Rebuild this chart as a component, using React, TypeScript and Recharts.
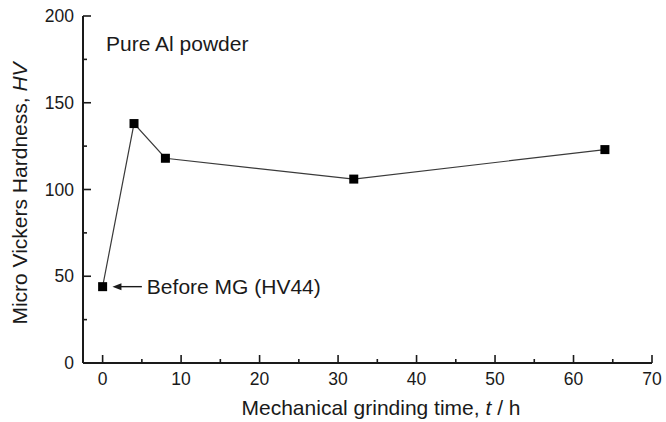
import { Label, Line, LineChart, ReferenceLine, XAxis, YAxis } from "recharts";

// Milling time (h) and micro Vickers hardness (HV)
const grindTime = [0, 4, 8, 32, 64];
const hardness = [44, 138, 118, 106, 123];

const xTicks = [0, 5, 10, 15, 20, 25, 30, 35, 40, 45, 50, 55, 60, 65, 70];
const yTicks = [0, 25, 50, 75, 100, 125, 150, 175, 200];

const sampleLabel = "Pure Al powder";
const beforeLabel = "Before MG (HV44)";

const data = grindTime.map((t, i) => ({ t, hv: hardness[i] }));

const FONT = "'Liberation Sans', Arial, Helvetica, sans-serif";
const INK = "#1a1a1a";

function BottomTick({ x, y, payload }: any) {
  const major = payload.value % 10 === 0;
  return (
    <g>
      <line x1={x} x2={x} y1={y} y2={y - (major ? 8 : 4)} stroke={INK} strokeWidth={1.6} />
      {major && (
        <text x={x} y={y + 10} dy="0.71em" textAnchor="middle" fontFamily={FONT} fontSize={17.5} fill={INK}>
          {payload.value}
        </text>
      )}
    </g>
  );
}

function TopTick({ x, y, payload }: any) {
  const major = payload.value % 10 === 0;
  return <line x1={x} x2={x} y1={y} y2={y + (major ? 8 : 4)} stroke={INK} strokeWidth={1.6} />;
}

function LeftTick({ x, y, payload }: any) {
  const major = payload.value % 50 === 0;
  return (
    <g>
      <line x1={x} x2={x + (major ? 8 : 4)} y1={y} y2={y} stroke={INK} strokeWidth={1.6} />
      {major && (
        <text x={x - 9} y={y} dy="0.355em" textAnchor="end" fontFamily={FONT} fontSize={17.5} fill={INK}>
          {payload.value}
        </text>
      )}
    </g>
  );
}

function RightTick({ x, y, payload }: any) {
  const major = payload.value % 50 === 0;
  return <line x1={x} x2={x - (major ? 8 : 4)} y1={y} y2={y} stroke={INK} strokeWidth={1.6} />;
}

function SquareDot({ cx, cy, index }: any) {
  return <rect key={`sq-${index}`} x={cx - 4.5} y={cy - 4.5} width={9} height={9} fill="#000" />;
}

function ArrowShape({ x1, y1, x2, y2 }: any) {
  // arrow head sits at the left end, pointing at the marker
  const tip = Math.min(x1, x2);
  const tail = Math.max(x1, x2);
  return (
    <g>
      <line x1={tip + 6} x2={tail} y1={y1} y2={y2} stroke={INK} strokeWidth={1.4} />
      <polygon points={`${tip},${y1} ${tip + 9},${y1 - 3.5} ${tip + 9},${y1 + 3.5}`} fill={INK} />
    </g>
  );
}

function yTitle({ viewBox }: any) {
  const cx = viewBox.x + 20;
  const cy = viewBox.y + viewBox.height / 2 + 4;
  return (
    <text
      x={cx}
      y={cy}
      transform={`rotate(-90, ${cx}, ${cy})`}
      textAnchor="middle"
      dy="0.355em"
      fontFamily={FONT}
      fontSize={21}
      fill={INK}
    >
      Micro Vickers Hardness, <tspan fontStyle="italic">HV</tspan>
    </text>
  );
}

function xTitle({ viewBox }: any) {
  const cx = viewBox.x + viewBox.width / 2 + 13.5;
  return (
    <text x={cx} y={viewBox.y + 52} textAnchor="middle" fontFamily={FONT} fontSize={21} fill={INK}>
      Mechanical grinding time, <tspan fontStyle="italic">t</tspan> / h
    </text>
  );
}

export default function App() {
  return (
    <div style={{ position: "absolute", left: 0, top: 0, background: "#fff" }}>
      <LineChart width={666} height={422} data={data} margin={{ top: 16, right: 14, bottom: 0, left: 0 }}>
        <XAxis
          xAxisId="b"
          dataKey="t"
          type="number"
          domain={[-2.5, 70]}
          ticks={xTicks}
          interval={0}
          height={59}
          tickSize={0}
          tickMargin={0}
          tickLine={false}
          tick={<BottomTick />}
          axisLine={{ stroke: INK, strokeWidth: 2 }}
        >
          <Label content={xTitle} />
        </XAxis>
        <XAxis
          xAxisId="t"
          orientation="top"
          dataKey="t"
          type="number"
          domain={[-2.5, 70]}
          ticks={xTicks}
          interval={0}
          height={0}
          tickSize={0}
          tickMargin={0}
          tickLine={false}
          tick={<TopTick />}
          axisLine={{ stroke: INK, strokeWidth: 2 }}
        />
        <YAxis
          yAxisId="l"
          type="number"
          domain={[0, 200]}
          ticks={yTicks}
          interval={0}
          width={83}
          tickSize={0}
          tickMargin={0}
          tickLine={false}
          tick={<LeftTick />}
          axisLine={{ stroke: INK, strokeWidth: 2 }}
        >
          <Label content={yTitle} />
        </YAxis>
        <YAxis
          yAxisId="r"
          orientation="right"
          type="number"
          domain={[0, 200]}
          ticks={yTicks}
          interval={0}
          width={0}
          tickSize={0}
          tickMargin={0}
          tickLine={false}
          tick={<RightTick />}
          axisLine={{ stroke: INK, strokeWidth: 2 }}
        />
        <Line
          xAxisId="b"
          yAxisId="l"
          dataKey="hv"
          type="linear"
          stroke="#3a3a3a"
          strokeWidth={1.2}
          dot={SquareDot}
          activeDot={false}
          isAnimationActive={false}
        />
        <ReferenceLine
          xAxisId="b"
          yAxisId="l"
          segment={[
            { x: 1.25, y: hardness[0] },
            { x: 5, y: hardness[0] },
          ]}
          shape={ArrowShape}
        >
          <Label value={beforeLabel} position="right" offset={5} fontFamily={FONT} fontSize={21} fill={INK} />
        </ReferenceLine>
        <text x={106} y={51} fontFamily={FONT} fontSize={21} fill={INK}>
          {sampleLabel}
        </text>
      </LineChart>
    </div>
  );
}
